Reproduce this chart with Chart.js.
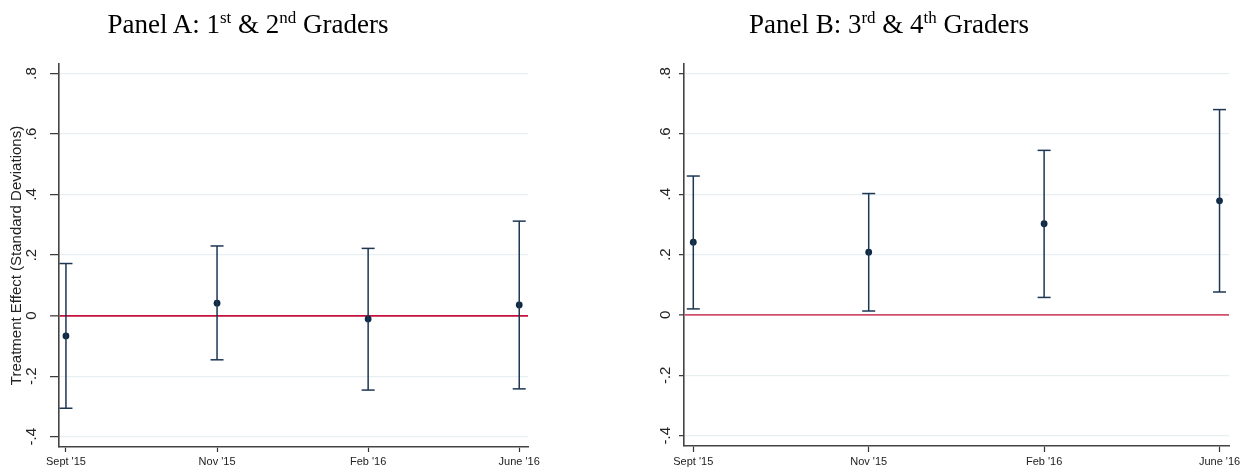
<!DOCTYPE html>
<html><head><meta charset="utf-8">
<script src="https://cdn.jsdelivr.net/npm/chart.js@4.4.0/dist/chart.umd.min.js"></script>
<style>
html,body{margin:0;padding:0;background:#fff;width:1253px;height:476px;overflow:hidden}
canvas{position:absolute;top:0}
.ttl{position:absolute;z-index:2;font-family:"Liberation Serif","Times New Roman",serif;font-size:27px;line-height:27px;color:#000;text-align:center;white-space:nowrap}
.ttl sup{font-size:17px;line-height:0;vertical-align:baseline;position:relative;top:-10px}
</style></head>
<body>
<div class="ttl" style="left:0;top:11px;width:496px">Panel A: 1<sup>st</sup> &amp; 2<sup>nd</sup> Graders</div>
<div class="ttl" style="left:626px;top:11px;width:526px">Panel B: 3<sup>rd</sup> &amp; 4<sup>th</sup> Graders</div>
<canvas id="cA" width="626" height="476" style="left:0"></canvas>
<canvas id="cB" width="627" height="476" style="left:626px"></canvas>
<script>
const categories = ["Sept '15", "Nov '15", "Feb '16", "June '16"];
const yTicks = [-0.4, -0.2, 0, 0.2, 0.4, 0.6, 0.8];
const yTickLabels = ["-.4", "-.2", "0", ".2", ".4", ".6", ".8"];
const yTitle = "Treatment Effect (Standard Deviations)";

// Panel A: 1st & 2nd graders
const estA = [-0.067, 0.041, -0.011, 0.035];
const loA  = [-0.306, -0.146, -0.246, -0.242];
const hiA  = [0.172, 0.230, 0.222, 0.312];

// Panel B: 3rd & 4th graders
const estB = [0.241, 0.208, 0.302, 0.378];
const loB  = [0.020, 0.013, 0.058, 0.076];
const hiB  = [0.460, 0.402, 0.545, 0.680];

const NAVY = '#1c3654';
const SANS = '"Liberation Sans", Arial, sans-serif';

const yLabelPlugin = {
  id: 'yLabels',
  afterDraw(chart, args, opts) {
    const s = chart.scales.y;
    const ctx = chart.ctx;
    ctx.save();
    ctx.fillStyle = '#222';
    ctx.font = '15px ' + SANS;
    ctx.textAlign = 'center';
    ctx.textBaseline = 'middle';
    yTicks.forEach((v, i) => {
      const py = s.getPixelForValue(v);
      ctx.save();
      ctx.translate(chart.chartArea.left - opts.offset, py);
      ctx.rotate(-Math.PI / 2);
      ctx.fillText(yTickLabels[i], 0, 0);
      ctx.restore();
    });
    ctx.restore();
  }
};

function makeChart(id, est, lo, hi, c) {
  const datasets = [];
  categories.forEach((cat, i) => {
    datasets.push({
      type: 'line',
      data: [{x: i, y: lo[i]}, {x: i, y: hi[i]}],
      borderColor: NAVY,
      borderWidth: 1.5,
      pointStyle: 'line',
      pointRadius: 6.5,
      pointBorderWidth: 1.5,
      pointBorderColor: NAVY,
      pointBackgroundColor: NAVY,
      fill: false,
      tension: 0
    });
  });
  datasets.push({
    type: 'scatter',
    data: est.map((v, i) => ({x: i, y: v})),
    pointRadius: 3.4,
    pointBackgroundColor: '#102a45',
    pointBorderColor: '#102a45',
    pointBorderWidth: 0
  });
  return new Chart(document.getElementById(id), {
    type: 'scatter',
    data: { datasets },
    plugins: [yLabelPlugin],
    options: {
      responsive: false,
      animation: false,
      devicePixelRatio: 1,
      layout: { padding: { left: 0, right: c.padRight, top: 64, bottom: 0 } },
      plugins: {
        legend: { display: false },
        tooltip: { enabled: false },
        yLabels: { offset: c.labelOffset }
      },
      scales: {
        x: {
          type: 'linear',
          min: c.xmin, max: c.xmax,
          afterBuildTicks: s => { s.ticks = categories.map((_, i) => ({value: i})); },
          afterFit: s => { s.height = c.xHeight; },
          ticks: {
            callback: (v) => categories[Math.round(v)],
            font: { size: 11, family: SANS },
            color: '#222',
            padding: 3,
            maxRotation: 0, minRotation: 0,
            autoSkip: false
          },
          grid: { drawOnChartArea: false, drawTicks: true, tickLength: c.xTick, tickColor: '#333', tickWidth: 1.2 },
          border: { display: true, color: '#444', width: 1.6 }
        },
        y: {
          type: 'linear',
          min: -0.434, max: 0.831,
          afterBuildTicks: s => { s.ticks = yTicks.map(v => ({value: v})); },
          afterFit: s => { s.width = c.yWidth; },
          ticks: { display: false },
          title: {
            display: c.showTitle,
            text: yTitle,
            font: { size: 15, family: SANS },
            color: '#222',
            padding: { top: 8, bottom: 0 }
          },
          grid: {
            drawOnChartArea: true,
            drawTicks: true,
            tickLength: c.yTick,
            tickColor: '#333',
            tickWidth: 1.2,
            color: ctx => (ctx.tick && Math.abs(ctx.tick.value) < 1e-9) ? c.zeroColor : '#e8eff1',
            lineWidth: ctx => (ctx.tick && Math.abs(ctx.tick.value) < 1e-9) ? 1.7 : 1.3
          },
          border: { display: true, color: '#444', width: 1.6 }
        }
      }
    }
  });
}

makeChart('cA', estA, loA, hiA, {
  padRight: 98, yWidth: 59, xHeight: 29, xmin: -0.046, xmax: 3.058,
  labelOffset: 27, xTick: 5, yTick: 9, showTitle: true, zeroColor: '#c4103a'
});
makeChart('cB', estB, loB, hiB, {
  padRight: 24, yWidth: 58, xHeight: 30, xmin: -0.053, xmax: 3.054,
  labelOffset: 18, xTick: 6, yTick: 5, showTitle: false, zeroColor: '#d04f6b'
});
</script>
</body></html>
